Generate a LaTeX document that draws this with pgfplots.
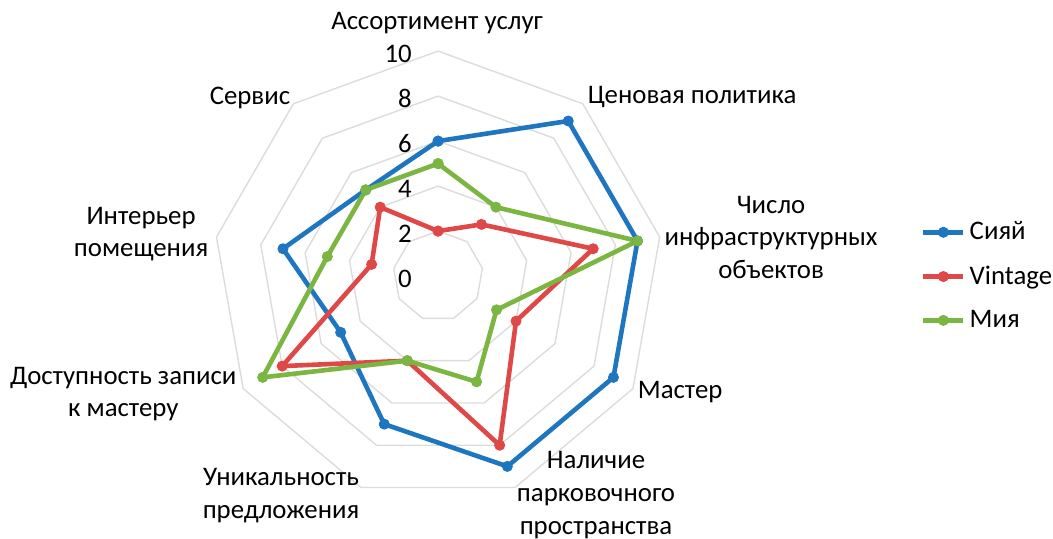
\documentclass[border=0pt]{standalone}
\usepackage{fontspec}
\setmainfont{Carlito}
\usepackage{pgfplots}
\pgfplotsset{compat=1.18}
\usepgfplotslibrary{polar}
\definecolor{cBlue}{RGB}{30,117,192}
\definecolor{cRed}{RGB}{224,72,72}
\definecolor{cGreen}{RGB}{124,182,66}
\definecolor{gridgray}{RGB}{220,220,220}
\begin{document}
\begin{tikzpicture}
\begin{axis}[
  at={(0,0)}, anchor=south west,
  x=11.25pt, y=11.25pt,
  xmin=-19.47, xmax=27.33, ymin=-11.64, ymax=12.27,
  hide axis, clip=false,
  legend style={draw=none, fill=none, at={(axis cs:21.45,0)}, anchor=west,
    font=\fontsize{13.4}{15}\selectfont, row sep=7.5pt, inner sep=0pt},
  legend cell align=left,
  legend image code/.code={\draw[mark repeat=2,mark phase=2,#1] plot coordinates {(0pt,0pt)(10pt,0pt)(20pt,0pt)};},
  every axis plot/.append style={line join=round},
]
% grid rings
\addplot[gridgray, line width=0.7pt, data cs=polar, forget plot] coordinates {(90,2)(50,2)(10,2)(-30,2)(-70,2)(-110,2)(-150,2)(-190,2)(-230,2)(-270,2)};
\addplot[gridgray, line width=0.7pt, data cs=polar, forget plot] coordinates {(90,4)(50,4)(10,4)(-30,4)(-70,4)(-110,4)(-150,4)(-190,4)(-230,4)(-270,4)};
\addplot[gridgray, line width=0.7pt, data cs=polar, forget plot] coordinates {(90,6)(50,6)(10,6)(-30,6)(-70,6)(-110,6)(-150,6)(-190,6)(-230,6)(-270,6)};
\addplot[gridgray, line width=0.7pt, data cs=polar, forget plot] coordinates {(90,8)(50,8)(10,8)(-30,8)(-70,8)(-110,8)(-150,8)(-190,8)(-230,8)(-270,8)};
\addplot[gridgray, line width=0.7pt, data cs=polar, forget plot] coordinates {(90,10)(50,10)(10,10)(-30,10)(-70,10)(-110,10)(-150,10)(-190,10)(-230,10)(-270,10)};
\addplot[cBlue, line width=2.3pt, mark=*, mark size=2.5pt, mark options={line width=0.5pt}, data cs=polar]
  coordinates {(90,6)(50,9)(10,9)(-30,9)(-70,9)(-110,7)(-150,5)(-190,7)(-230,5)(-270,6)};
\addlegendentry{Сияй}
\addplot[cRed, line width=2.3pt, mark=*, mark size=2.5pt, mark options={line width=0.5pt}, data cs=polar]
  coordinates {(90,2)(50,3)(10,7)(-30,4)(-70,8)(-110,4)(-150,8)(-190,3)(-230,4)(-270,2)};
\addlegendentry{Vintage}
\addplot[cGreen, line width=2.3pt, mark=*, mark size=2.5pt, mark options={line width=0.5pt}, data cs=polar]
  coordinates {(90,5)(50,4)(10,9)(-30,3)(-70,5)(-110,4)(-150,9)(-190,5)(-230,5)(-270,5)};
\addlegendentry{Мия}
% value labels
\tikzset{vallab/.style={anchor=east, inner sep=0pt, font=\fontsize{13.4}{15}\selectfont}}
\node[vallab] at (axis cs:-1.15,-0.11) {0};
\node[vallab] at (axis cs:-1.15,1.89) {2};
\node[vallab] at (axis cs:-1.15,3.89) {4};
\node[vallab] at (axis cs:-1.15,5.89) {6};
\node[vallab] at (axis cs:-1.15,7.89) {8};
\node[vallab] at (axis cs:-1.15,9.89) {10};
% category labels
\tikzset{catlab/.style={align=center, inner sep=0pt, font=\fontsize{13.4}{16.3}\selectfont}}
\node[catlab] at (axis cs:-0.04,11.24) {Ассортимент услуг};
\node[catlab] at (axis cs:11.29,7.96) {Ценовая политика};
\node[catlab] at (axis cs:14.8,1.73) {Число\\инфраструктурных\\объектов};
\node[catlab] at (axis cs:10.76,-5.16) {Мастер};
\node[catlab] at (axis cs:7.02,-9.73) {Наличие\\парковочного\\пространства};
\node[catlab] at (axis cs:-6.98,-9.76) {Уникальность\\предложения};
\node[catlab] at (axis cs:-13.99,-5.24) {Доступность записи\\к мастеру};
\node[catlab] at (axis cs:-13.2,1.87) {Интерьер\\помещения};
\node[catlab] at (axis cs:-8.36,7.91) {Сервис};
\end{axis}
\pgfresetboundingbox
\path (0,0) rectangle (526.5pt,269pt);
\end{tikzpicture}
\end{document}
